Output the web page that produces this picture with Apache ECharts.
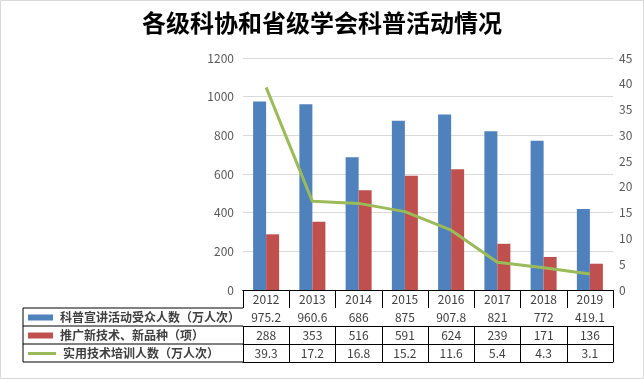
<!DOCTYPE html>
<html><head><meta charset="utf-8">
<script src="https://cdn.jsdelivr.net/npm/echarts@6/dist/echarts.min.js"></script>
<style>html,body{margin:0;padding:0;background:#fff}#c{width:644px;height:379px}</style>
</head><body><div id="c"></div>
<script>
const years = ['2012','2013','2014','2015','2016','2017','2018','2019'];
const audience = [975.2, 960.6, 686, 875, 907.8, 821, 772, 419.1];
const techPromo = [288, 353, 516, 591, 624, 239, 171, 136];
const training = [39.3, 17.2, 16.8, 15.2, 11.6, 5.4, 4.3, 3.1];
const leftTicks = {min:0, max:1200, interval:200};
const rightTicks = {min:0, max:45, interval:5};
const names = ['科普宣讲活动受众人数（万人次）','推广新技术、新品种（项）','实用技术培训人数（万人次）'];
const colors = ['#4F81BD','#C0504D','#9BBB59'];

const W = 644, H = 379;
const GL = 243, GR = 31, GT = 58, GB = 89;
const ROW = 18;
const axisY = H - GB;
const TAB_LEFT = 23;
const FONT = '"Noto Sans CJK SC", "Noto Sans", sans-serif';
const txt = '#404040';

function rowAxis(data, offset, showLabel, showTick) {
  return {
    type: 'category', data: data, position: 'bottom', offset: offset,
    axisLine: {show: true, lineStyle: {color: '#000', width: 1}},
    axisTick: {show: showTick, length: ROW, interval: 0, lineStyle: {color: '#000', width: 1}},
    axisLabel: {show: showLabel, interval: 0, margin: 3, fontSize: 12, lineHeight: 13, color: txt, fontFamily: FONT},
    splitLine: {show: false}
  };
}

const chart = echarts.init(document.getElementById('c'));
const lines = [];
for (let i = 1; i <= 4; i++) {
  lines.push({type: 'line', shape: {x1: TAB_LEFT, y1: axisY + ROW * i, x2: GL, y2: axisY + ROW * i}, style: {stroke: '#000', lineWidth: 1}});
}
lines.push({type: 'line', shape: {x1: TAB_LEFT, y1: axisY + ROW, x2: TAB_LEFT, y2: axisY + ROW * 4}, style: {stroke: '#000', lineWidth: 1}});
lines.push({type: 'rect', shape: {x: 0.5, y: 0.5, width: W - 1, height: H - 1}, style: {stroke: '#d9d9d9', fill: 'none', lineWidth: 1}});

function legendRow(i, iw, ih) {
  return {
    data: [{name: names[i], icon: 'rect'}], left: 28, top: axisY + ROW * (i + 1) + 3,
    itemWidth: iw, itemHeight: ih, itemGap: 6, selectedMode: false,
    textStyle: {fontSize: 12, lineHeight: 13, color: txt, fontFamily: FONT, fontWeight: 'bold', padding: [0,0,0,2]},
    padding: 0
  };
}

chart.setOption({
  animation: false,
  title: {text: '各级科协和省级学会科普活动情况', left: 'center', top: 6,
    textStyle: {fontSize: 24, fontWeight: 'bold', color: '#000', fontFamily: FONT}},
  legend: [legendRow(0, 25, 6), legendRow(1, 25, 6), legendRow(2, 28, 3)],
  grid: {left: GL, right: GR, top: GT, bottom: GB, containLabel: false},
  xAxis: [
    rowAxis(years, 0, true, true),
    rowAxis(audience.map(String), ROW, true, true),
    rowAxis(techPromo.map(String), ROW * 2, true, true),
    rowAxis(training.map(String), ROW * 3, true, true),
    rowAxis(years, ROW * 4, false, false)
  ],
  yAxis: [
    {type: 'value', min: leftTicks.min, max: leftTicks.max, interval: leftTicks.interval,
      axisLine: {show: false}, axisTick: {show: false},
      axisLabel: {margin: 9, fontSize: 12, color: '#595959', fontFamily: FONT, formatter: v => String(v)},
      splitLine: {lineStyle: {color: '#d9d9d9', width: 1}}},
    {type: 'value', min: rightTicks.min, max: rightTicks.max, interval: rightTicks.interval,
      axisLine: {show: false}, axisTick: {show: false},
      axisLabel: {margin: 6, fontSize: 12, color: '#595959', fontFamily: FONT, formatter: v => String(v)},
      splitLine: {show: false}}
  ],
  series: [
    {name: names[0], type: 'bar', data: audience, barWidth: 13, barGap: '0%', itemStyle: {color: colors[0]}},
    {name: names[1], type: 'bar', data: techPromo, barWidth: 13, barGap: '0%', itemStyle: {color: colors[1]}},
    {name: names[2], type: 'line', yAxisIndex: 1, data: training, showSymbol: false, symbol: 'none',
      lineStyle: {color: colors[2], width: 3}, itemStyle: {color: colors[2]}}
  ],
  graphic: lines
});
</script></body></html>
